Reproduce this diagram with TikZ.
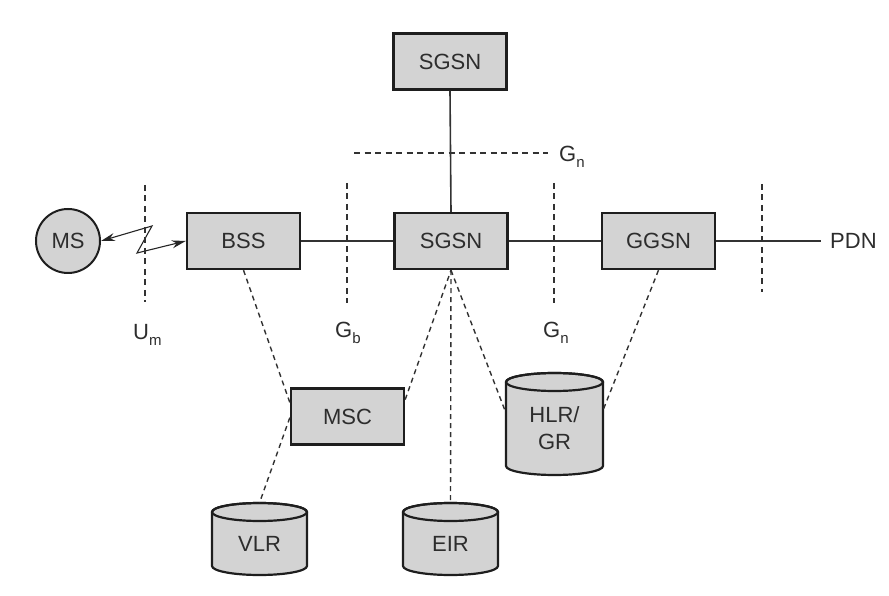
\documentclass[tikz,border=0pt]{standalone}
\usepackage{fontspec}
\setmainfont{Liberation Sans}
\usetikzlibrary{calc,arrows.meta}

\definecolor{boxfill}{RGB}{211,211,211}
\definecolor{boxline}{RGB}{30,30,30}
\definecolor{linecol}{RGB}{50,50,50}
\definecolor{textcol}{RGB}{45,45,45}

% lowered subscript for interface names
\newcommand\subidx[1]{\raisebox{-6pt}{\fontsize{15}{18}\selectfont #1}}

% database drum: name, centre x, top y, bottom y, half width, label
\def\drumry{9}
\newcommand\dbstore[6]{%
  \path[drumbody] (#2-#5,#3-\drumry) -- (#2-#5,#4+\drumry)
    arc[start angle=180,end angle=360,x radius=#5pt,y radius=\drumry pt]
    -- (#2+#5,#3-\drumry)
    arc[start angle=0,end angle=180,x radius=#5pt,y radius=\drumry pt] -- cycle;
  \draw[drumline] (#2,#3-\drumry) ellipse[x radius=#5pt,y radius=\drumry pt];
  \node[drumtext, minimum width={2*#5pt}, minimum height={(#3-\drumry-#4)*1pt}]
    (#1) at (#2,{(#3-\drumry+#4)/2}) {#6};
}

\tikzset{
  netbox/.style={draw=boxline, fill=boxfill, line width=2.4pt,
    minimum width=113pt, minimum height=56pt, inner sep=0pt, text=textcol},
  station/.style={circle, draw=boxline, fill=boxfill, line width=2pt,
    minimum size=64pt, inner sep=0pt, text=textcol},
  drumbody/.style={draw=boxline, fill=boxfill, line width=2.2pt},
  drumline/.style={draw=boxline, line width=2.2pt},
  drumtext/.style={inner sep=0pt, text=textcol, align=center},
  link/.style={draw=linecol, line width=1.6pt},
  iface/.style={draw=linecol, line width=1.4pt, dash pattern=on 5pt off 4pt},
  refline/.style={draw=linecol, line width=1.4pt, dash pattern=on 6pt off 4.5pt},
  radio/.style={draw=black!85, line width=1.1pt,
    {Stealth[length=14pt,width=8pt]}-{Stealth[length=14pt,width=8pt]}},
  tag/.style={text=textcol, inner sep=0pt}
}

\begin{document}
\begin{tikzpicture}[x=1pt,y=1pt, font=\fontsize{22}{27}\selectfont]
\useasboundingbox (0,0) rectangle (889,595);

% network elements
\node[netbox] (sgsntop) at (450,533.5) {SGSN};
\node[netbox] (bss)  at (243.5,354) {BSS};
\node[netbox] (sgsn) at (451,354) {SGSN};
\node[netbox] (ggsn) at (658.5,354) {GGSN};
\node[netbox] (msc)  at (347.5,178.5) {MSC};
\node[station] (ms) at (68,354) {MS};

% registers
\dbstore{hlr}{554.5}{222}{120}{48.5}{HLR/\\GR}
\dbstore{vlr}{259.5}{92}{20}{47.5}{VLR}
\dbstore{eir}{450.5}{92}{20}{47.5}{EIR}

% packet data network
\node[tag, anchor=west, inner xsep=9pt] (pdn) at (821,354) {PDN};

% backbone links
\draw[link] (sgsntop.south) -- (sgsn.north);
\draw[link] (bss.east) -- (sgsn.west);
\draw[link] (sgsn.east) -- (ggsn.west);
\draw[link] (ggsn.east) -- (pdn.west);

% radio interface
\coordinate (zb) at (152,369);
\coordinate (zc) at (137,342);
\draw[radio] (ms.east) -- (zb) -- (zc) -- (bss.west);

% signalling links
\draw[iface] (bss.south) -- ($(msc.north west)!0.26!(msc.south west)$);
\draw[iface] ($(msc.north west)!0.52!(msc.south west)$) -- ([yshift=\drumry pt]vlr.north);
\draw[iface] ($(msc.north east)!0.21!(msc.south east)$) -- (sgsn.south);
\draw[iface] (sgsn.south) -- ([yshift=\drumry pt]eir.north);
\draw[iface] (sgsn.south) -- ($(hlr.north west)!0.33!(hlr.south west)$);
\draw[iface] (ggsn.south) -- ($(hlr.north east)!0.30!(hlr.south east)$);

% interface reference points
\coordinate (umtop) at (145,410);  \coordinate (umbot) at (145,293);
\coordinate (gbtop) at (347,412);  \coordinate (gbbot) at (347,292);
\coordinate (gntop) at (554,412);  \coordinate (gnbot) at (554,292);
\coordinate (pdtop) at (762,411);  \coordinate (pdbot) at (762,303);
\coordinate (gnleft) at (354,442); \coordinate (gnright) at (548,442);
\draw[refline] (umtop) -- (umbot);
\draw[refline] (gbtop) -- (gbbot);
\draw[refline] (gntop) -- (gnbot);
\draw[refline] (pdtop) -- (pdbot);
\draw[refline] (gnleft) -- (gnright);

\node[tag, anchor=base west] (um)  at (133,255) {U\subidx{m}};
\node[tag, anchor=base west] (gb)  at (335,257) {G\subidx{b}};
\node[tag, anchor=base west] (gn1) at (543,257) {G\subidx{n}};
\node[tag, anchor=base west] (gn2) at (559,433) {G\subidx{n}};
\end{tikzpicture}
\end{document}
